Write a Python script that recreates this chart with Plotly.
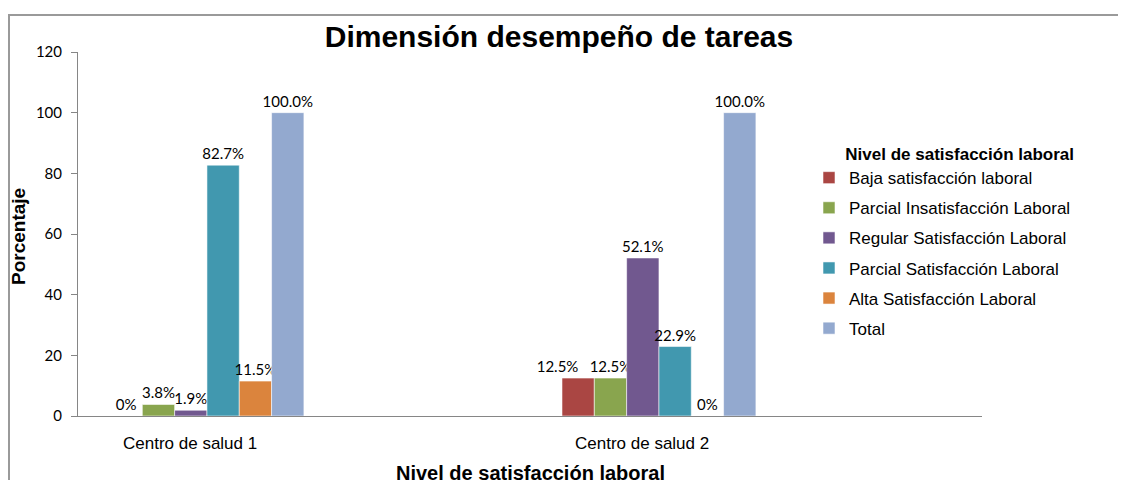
import plotly.graph_objects as go

# ---- data ----
categories = ["Centro de salud 1", "Centro de salud 2"]
series_names = [
    "Baja satisfacción laboral",
    "Parcial Insatisfacción Laboral",
    "Regular Satisfacción Laboral",
    "Parcial Satisfacción Laboral",
    "Alta Satisfacción Laboral",
    "Total",
]
baja = [0, 12.5]
parcial_insat = [3.8, 12.5]
regular_sat = [1.9, 52.1]
parcial_sat = [82.7, 22.9]
alta_sat = [11.5, 0]
total = [100, 100]
y_ticks = [0, 20, 40, 60, 80, 100, 120]

series_values = [baja, parcial_insat, regular_sat, parcial_sat, alta_sat, total]
colors = ["#AA4643", "#89A54E", "#71588F", "#4198AF", "#DB843D", "#93A9CF"]

# ---- layout constants (page pixels; page body has an 8px margin) ----
OFF = 8
W, H = 1126 - OFF, 480 - OFF
PLOT_L, PLOT_R, PLOT_T, PLOT_B = 78, 982, 52, 416  # page px
ML, MT = PLOT_L - OFF, PLOT_T - OFF
MR, MB = W - (PLOT_R - OFF), H - (PLOT_B - OFF)
PW, PH = PLOT_R - PLOT_L, PLOT_B - PLOT_T
BAR_W = 0.0715
GROUP_START = -0.4292
LABEL_SHIFT = -0.252
# label that the original chart nudged left to avoid its neighbour: (series, category)
NUDGED_LABELS = {(0, 1)}
NUDGE = "\u2003\u2003\u2003\u2002"


def fmt(v):
    return "0%" if v == 0 else f"{v:.1f}%"


def px_to_paper_x(px):
    return (px - PLOT_L) / PW


def px_to_paper_y(py):
    return 1 - (py - PLOT_T) / PH


x_pos = list(range(len(categories)))

fig = go.Figure()
for i, (name, vals, col) in enumerate(zip(series_names, series_values, colors)):
    labels = [fmt(v) + (NUDGE if (i, j) in NUDGED_LABELS else "") for j, v in enumerate(vals)]
    fig.add_trace(go.Bar(
        name=name,
        x=x_pos,
        y=vals,
        width=BAR_W,
        offset=GROUP_START + i * BAR_W,
        marker=dict(color=col, line=dict(color="rgba(255,255,255,0.55)", width=1)),
        text=labels,
        textposition="outside",
        textfont=dict(family="Lato", size=15, color="#000000"),
        constraintext="none",
        cliponaxis=False,
        legendgroup=name,
    ))

fig.update_layout(
    width=W, height=H,
    margin=dict(l=ML, r=MR, t=MT, b=MB, autoexpand=False),
    paper_bgcolor="white", plot_bgcolor="white",
    barmode="overlay",
    showlegend=True,
    title=dict(
        text="<b>Dimensión desempeño de tareas</b>",
        font=dict(family="Liberation Sans, Arial", size=30, color="#000000"),
        xref="paper", x=px_to_paper_x(559), xanchor="center",
        yref="container", y=1 - (36 - OFF) / H, yanchor="middle",
    ),
    xaxis=dict(
        range=[-0.5, len(categories) - 0.5],
        tickvals=[p + LABEL_SHIFT for p in x_pos],
        ticktext=categories,
        ticks="",
        ticklabelstandoff=12,
        tickfont=dict(family="Liberation Sans, Arial", size=17, color="#000000"),
        showline=True, linecolor="#868686", linewidth=1,
        showgrid=False, zeroline=False,
    ),
    yaxis=dict(
        range=[0, 120],
        tickvals=y_ticks,
        ticks="outside", ticklen=6, tickcolor="#868686",
        ticklabelstandoff=6,
        tickfont=dict(family="Lato", size=15, color="#000000"),
        showline=True, linecolor="#868686", linewidth=1,
        showgrid=False, zeroline=False,
    ),
    legend=dict(
        title=dict(text="<b>Nivel de satisfacción laboral</b>", side="top right",
                   font=dict(family="Liberation Sans, Arial", size=17, color="#000000")),
        font=dict(family="Liberation Sans, Arial", size=17, color="#000000"),
        x=px_to_paper_x(809), xanchor="left",
        y=px_to_paper_y(138), yanchor="top",
        bgcolor="rgba(0,0,0,0)",
        tracegroupgap=5,
        itemclick=False, itemdoubleclick=False,
    ),
    annotations=[
        dict(text="<b>Porcentaje</b>", textangle=-90,
             xref="paper", yref="paper",
             x=px_to_paper_x(18), y=px_to_paper_y(236),
             xanchor="center", yanchor="middle", showarrow=False,
             font=dict(family="Liberation Sans, Arial", size=19, color="#000000")),
        dict(text="<b>Nivel de satisfacción laboral</b>",
             xref="paper", yref="paper",
             x=px_to_paper_x(530), y=px_to_paper_y(473),
             xanchor="center", yanchor="middle", showarrow=False,
             font=dict(family="Liberation Sans, Arial", size=20, color="#000000")),
    ],
    shapes=[
        dict(type="rect", xref="paper", yref="paper",
             x0=px_to_paper_x(OFF + 1), x1=px_to_paper_x(1126 + 40),
             y0=px_to_paper_y(480 + 40), y1=px_to_paper_y(15),
             line=dict(color="#9A9A9A", width=2), fillcolor="rgba(0,0,0,0)",
             layer="below"),
    ],
)

fig.write_html("out.html")
